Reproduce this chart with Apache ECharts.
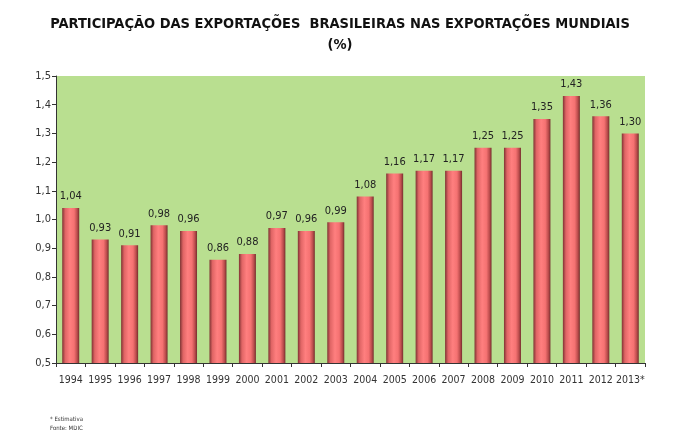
<!DOCTYPE html>
<html>
<head>
<meta charset="utf-8">
<script src="https://cdn.jsdelivr.net/npm/echarts@6/dist/echarts.min.js"></script>
<style>
  html, body { margin:0; padding:0; background:#fff; }
  #chart { width:680px; height:436px; }
</style>
</head>
<body>
<div id="chart"></div>
<script>
  const years = ['1994','1995','1996','1997','1998','1999','2000','2001','2002','2003',
                 '2004','2005','2006','2007','2008','2009','2010','2011','2012','2013*'];
  const share = [1.04,0.93,0.91,0.98,0.96,0.86,0.88,0.97,0.96,0.99,
                 1.08,1.16,1.17,1.17,1.25,1.25,1.35,1.43,1.36,1.30];
  const TITLE = 'PARTICIPAÇÃO DAS EXPORTAÇÕES  BRASILEIRAS NAS EXPORTAÇÕES MUNDIAIS\n(%)';

  const FONT = '"Liberation Sans Narrow", "DejaVu Sans Condensed", "Liberation Sans", Arial, sans-serif';

  const chart = echarts.init(document.getElementById('chart'));

  const barColor = new echarts.graphic.LinearGradient(0, 0, 1, 0, [
    {offset: 0,    color: '#7f3333'},
    {offset: 0.18, color: '#e06565'},
    {offset: 0.45, color: '#ff7f7f'},
    {offset: 0.7,  color: '#f57272'},
    {offset: 0.88, color: '#bb4c4c'},
    {offset: 1,    color: '#742e2e'}
  ]);

  chart.setOption({
    backgroundColor: '#fff',
    animation: false,
    title: {
      text: TITLE,
      left: 'center', top: 9,
      textStyle: {fontFamily: FONT, fontSize: 14.5, fontWeight: 'bold', color: '#111', lineHeight: 21}
    },
    graphic: [
      {type: 'text', left: 50, top: 416, style: {text: '* Estimativa', fontSize: 6, fontFamily: FONT, fill: '#333'}},
      {type: 'text', left: 50, top: 425, style: {text: 'Fonte: MDIC', fontSize: 6, fontFamily: FONT, fill: '#333'}}
    ],
    grid: {left: 56, right: 35, top: 76, bottom: 73, show: true, backgroundColor: '#b9df90', borderWidth: 0},
    xAxis: {
      type: 'category',
      data: years,
      axisLine: {lineStyle: {color: '#333'}},
      axisTick: {show: true, interval: 0, length: 4, lineStyle: {color: '#333'}},
      axisLabel: {interval: 0, color: '#333', fontSize: 10.5, fontFamily: FONT, margin: 12}
    },
    yAxis: {
      type: 'value',
      min: 0.5, max: 1.5, interval: 0.1,
      splitLine: {show: false},
      axisLine: {show: true, lineStyle: {color: '#333'}},
      axisTick: {show: true, length: 4, lineStyle: {color: '#333'}},
      axisLabel: {color: '#333', fontSize: 11, fontFamily: FONT, margin: 5,
                  formatter: (v) => v.toFixed(1).replace('.', ',')}
    },
    series: [{
      type: 'bar',
      data: share,
      barWidth: 17,
      itemStyle: {color: barColor},
      label: {
        show: true, position: 'top', distance: 6,
        color: '#222', fontSize: 11, fontFamily: FONT,
        formatter: (p) => p.value.toFixed(2).replace('.', ',')
      }
    }]
  });

  window.addEventListener('resize', () => chart.resize());
</script>
</body>
</html>
